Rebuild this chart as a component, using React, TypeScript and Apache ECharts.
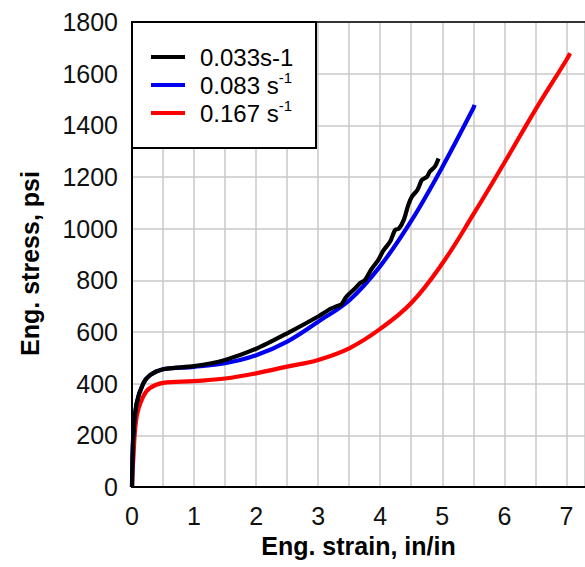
import React, { useEffect, useRef } from "react";
import * as echarts from "echarts";

const FONT = "'Liberation Sans', Arial, Helvetica, sans-serif";

const seriesNames = ["0.033s-1", "0.083 s-1", "0.167 s-1"];
const seriesColors = ["#000000", "#0000ee", "#ff0000"];

const strain033 = [0, 0.02, 0.075, 0.18, 0.29, 0.5, 1.0, 1.5, 2.0, 2.5, 3.0, 3.2, 3.3, 3.38, 3.45, 3.6, 3.68, 3.75, 3.85, 3.97, 4.05, 4.16, 4.24, 4.3, 4.38, 4.45, 4.51, 4.6, 4.67, 4.75, 4.8, 4.88, 4.94];
const stress033 = [0, 195, 324, 400, 433, 456, 468, 492, 535, 595, 660, 690, 700, 708, 735, 770, 790, 800, 840, 879, 915, 950, 995, 1000, 1034, 1090, 1124, 1150, 1188, 1200, 1221, 1240, 1272];

const strain083 = [0, 0.02, 0.075, 0.18, 0.29, 0.5, 1.0, 1.5, 2.0, 2.5, 3.0, 3.5, 4.0, 4.5, 5.0, 5.5, 5.52];
const stress083 = [0, 195, 324, 400, 433, 456, 465, 479, 510, 563, 640, 722, 855, 1030, 1238, 1466, 1479];

const strain167 = [0, 0.02, 0.075, 0.18, 0.29, 0.5, 1.0, 1.5, 2.0, 2.5, 3.0, 3.5, 4.0, 4.5, 5.0, 5.5, 6.0, 6.5, 7.0, 7.06];
const stress167 = [0, 105, 272, 350, 383, 403, 410, 420, 440, 466, 492, 537, 612, 712, 865, 1055, 1255, 1460, 1653, 1679];

const xTicks = [0, 1, 2, 3, 4, 5, 6, 7];
const yTicks = [0, 200, 400, 600, 800, 1000, 1200, 1400, 1600, 1800];

const zip = (xs: number[], ys: number[]) => xs.map((x, i) => [x, ys[i]]);

export default function App() {
  const ref = useRef<HTMLDivElement>(null);
  useEffect(() => {
    if (!ref.current) return;
    const chart = echarts.init(ref.current, null, { renderer: "svg" });
    const data = [zip(strain033, stress033), zip(strain083, stress083), zip(strain167, stress167)];
    const smoothness = [0.25, 0.35, 0.4];
    const gridLeft = 132;
    const gridTop = 22;
    const gridBottom = 80;
    chart.setOption({
      animation: false,
      backgroundColor: "#ffffff",
      grid: { left: gridLeft, top: gridTop, bottom: gridBottom, right: 0, containLabel: false },
      xAxis: [
        {
          type: "value",
          min: 0,
          max: 7.3,
          interval: 0.5,
          name: "Eng. strain, in/in",
          nameLocation: "middle",
          nameGap: 46,
          nameTextStyle: { fontFamily: FONT, fontSize: 25, fontWeight: "bold", color: "#000" },
          axisLine: { show: true, lineStyle: { color: "#000", width: 2 } },
          axisTick: { show: false },
          axisLabel: {
            fontFamily: FONT,
            fontSize: 25,
            color: "#111",
            margin: 16,
            showMaxLabel: false,
            formatter: (v: number) => (xTicks.includes(v) ? String(v) : ""),
          },
          splitLine: { show: true, lineStyle: { color: "#c8c8c8", width: 1.5 } },
        },
        {
          type: "value",
          position: "top",
          min: 0,
          max: 7.3,
          interval: 0.5,
          axisLine: { show: true, lineStyle: { color: "#333", width: 2 } },
          axisTick: { show: false },
          axisLabel: { show: false },
          splitLine: { show: false },
        },
      ],
      yAxis: {
        type: "value",
        min: 0,
        max: 1800,
        interval: 200,
        name: "Eng. stress, psi",
        nameLocation: "middle",
        nameGap: 90,
        nameTextStyle: { fontFamily: FONT, fontSize: 25, fontWeight: "bold", color: "#000", padding: [0, 18, 0, 0] },
        axisLine: { show: true, lineStyle: { color: "#000", width: 2 } },
        axisTick: { show: false },
        axisLabel: {
          fontFamily: FONT,
          fontSize: 25,
          color: "#111",
          margin: 14,
          formatter: (v: number) => (yTicks.includes(v) ? String(v) : ""),
        },
        splitLine: { show: true, lineStyle: { color: "#c8c8c8", width: 1.5 } },
      },
      legend: {
        orient: "vertical",
        left: 146,
        top: 40,
        itemWidth: 34,
        itemHeight: 4,
        itemGap: 1,
        icon: "rect",
        z: 6,
        data: seriesNames,
        formatter: (name: string) => {
          if (name === "0.033s-1") return "{a|0.033s-1}";
          const base = name.replace("-1", "");
          return "{a|" + base + "}{sup|-1}";
        },
        textStyle: {
          fontFamily: FONT,
          color: "#000",
          rich: {
            a: { fontFamily: FONT, fontSize: 24, lineHeight: 30, color: "#000", padding: [0, 0, 0, 10] },
            sup: { fontFamily: FONT, fontSize: 15, lineHeight: 30, color: "#000", verticalAlign: "top" },
          },
        },
      },
      graphic: [
        {
          type: "rect",
          z: 5,
          shape: { x: gridLeft, y: gridTop, width: 184, height: 126 },
          style: { fill: "#ffffff", stroke: "#000", lineWidth: 2 },
        },
      ],
      series: data.map((d, i) => ({
        name: seriesNames[i],
        type: "line",
        data: d,
        smooth: smoothness[i],
        showSymbol: false,
        symbol: "none",
        z: 3 + (2 - i),
        itemStyle: { color: seriesColors[i] },
        lineStyle: { color: seriesColors[i], width: 4.2 },
      })),
    });
    return () => chart.dispose();
  }, []);
  return (
    <div
      ref={ref}
      style={{ position: "fixed", left: 0, top: 0, width: 585, height: 567, background: "#fff" }}
    />
  );
}
